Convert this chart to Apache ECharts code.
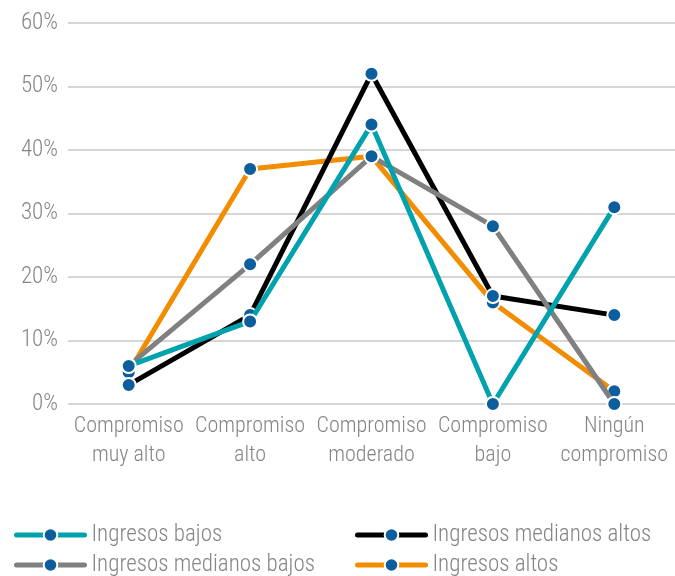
<!DOCTYPE html>
<html><head><meta charset="utf-8">
<script src="https://cdn.jsdelivr.net/npm/echarts@6/dist/echarts.min.js"></script>
<style>html,body{margin:0;padding:0;background:#fff}#c{width:675px;height:576px}</style>
</head><body><div id="c"></div>
<script>
const categories = ['Compromiso\nmuy alto','Compromiso\nalto','Compromiso\nmoderado','Compromiso\nbajo','Ningún\ncompromiso'];
const yTicks = [0,10,20,30,40,50,60];
const bajos = [6,13,44,0,31];
const medBajos = [6,22,39,28,0];
const medAltos = [3,14,52,17,14];
const altos = [5,37,39,16,2];
const names = ['Ingresos bajos','Ingresos medianos bajos','Ingresos medianos altos','Ingresos altos'];
const colors = ['#00a3ad','#808080','#000000','#f28c00'];
const FONT = '"Roboto Condensed","Liberation Sans Narrow",sans-serif';
const txt = '#858585';
function mk(i, data, z){
  return {name:names[i], type:'line', data:data, z:z,
    symbol:'circle', symbolSize:14,
    lineStyle:{color:colors[i], width:5},
    itemStyle:{color:'#0d5e9c', borderColor:'#fff', borderWidth:2},
    emphasis:{disabled:true}, animation:false};
}
const ts = {color:txt, fontSize:23, fontFamily:FONT, fontWeight:300};
const legBase = {orient:'vertical', top:523, height:60, padding:0, itemWidth:68, itemHeight:17, itemGap:6,
  lineStyle:{width:5, cap:'round'}, textStyle:Object.assign({lineHeight:24, padding:[0,0,0,2]}, ts)};
const chart = echarts.init(document.getElementById('c'));
chart.setOption({
  animation:false,
  textStyle:{fontFamily:FONT},
  grid:{left:68, right:-5, top:23, bottom:172, containLabel:false},
  xAxis:{type:'category', data:categories, boundaryGap:true,
    axisLine:{show:false}, axisTick:{show:false},
    axisLabel:Object.assign({}, ts, {fontSize:22, lineHeight:29, margin:8, interval:0})},
  yAxis:{type:'value', min:0, max:60, interval:10,
    axisLabel:Object.assign({margin:10, formatter:v=>v+'%'}, ts),
    splitLine:{lineStyle:{color:'#c8c8c8', width:1.5}}},
  legend:[
    Object.assign({data:[names[0],names[1]], left:14}, legBase),
    Object.assign({data:[names[2],names[3]], left:355}, legBase)
  ],
  series:[mk(3,altos,2), mk(2,medAltos,3), mk(1,medBajos,4), mk(0,bajos,5)]
});
</script></body></html>
